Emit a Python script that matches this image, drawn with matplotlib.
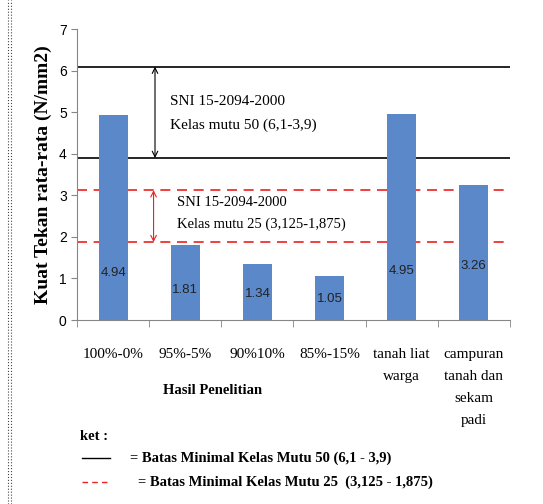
import matplotlib
matplotlib.use("Agg")
import matplotlib.pyplot as plt
from matplotlib.lines import Line2D

# data
categories = ["100%-0%", "95%-5%", "90%10%", "85%-15%",
              "tanah liat\nwarga", "campuran\ntanah dan\nsekam\npadi"]
values = [4.94, 1.81, 1.34, 1.05, 4.95, 3.26]
mutu50 = [6.1, 3.9]
mutu25 = [3.125, 1.875]

# heights where the value labels sit inside the bars
label_y = [1.13, 0.72, 0.63, 0.50, 1.18, 1.30]

serif = "Liberation Serif"
sans = "Liberation Sans"

fig = plt.figure(figsize=(5.43, 5.04), dpi=100)
ax = fig.add_axes([0.142, 0.365, 0.797, 0.577])

x = list(range(len(categories)))
ax.bar(x, values, width=0.4, color="#5B88C8", zorder=2)
for xi, v, ly in zip(x, values, label_y):
    ax.text(xi, ly, f"{v:.2f}", ha="center", va="center", fontsize=9.5,
            family=sans, color="#222222", zorder=3)

# standard limits
for y in mutu50:
    ax.axhline(y, color="black", lw=1.2, zorder=1)
for y in mutu25:
    ax.axhline(y, color="#EE2020", lw=1.2, ls=(0, (6, 4)), zorder=1)

ax.annotate("", xy=(0.58, mutu50[0]), xytext=(0.58, mutu50[1]),
            arrowprops=dict(arrowstyle="<->", color="black", lw=0.8,
                            shrinkA=0, shrinkB=0))
ax.annotate("", xy=(0.56, mutu25[0]), xytext=(0.56, mutu25[1]),
            arrowprops=dict(arrowstyle="<->", color="#EE2020", lw=0.8,
                            shrinkA=0, shrinkB=0))
ax.text(0.79, 4.98, "SNI 15-2094-2000\nKelas mutu 50 (6,1-3,9)",
        ha="left", va="center", fontsize=11, family=serif, linespacing=2.0)
ax.text(0.88, 2.57, "SNI 15-2094-2000\nKelas mutu 25 (3,125-1,875)",
        ha="left", va="center", fontsize=10.5, family=serif, linespacing=1.85)

ax.set_xlim(-0.5, 5.5)
ax.set_ylim(0, 7)
ax.set_yticks(range(8))
ax.set_xticks(x)
ax.set_xticklabels(categories, family=serif, fontsize=11, linespacing=1.9)
ax.set_xticks([i - 0.5 for i in range(len(categories) + 1)], minor=True)
ax.tick_params(axis="x", which="major", length=0, pad=20)
ax.tick_params(axis="x", which="minor", length=5, color="#868686", direction="out")
ax.tick_params(axis="y", length=4, color="#868686", labelsize=10)
for lab in ax.get_yticklabels():
    lab.set_family(sans)
for s in ["top", "right"]:
    ax.spines[s].set_visible(False)
for s in ["left", "bottom"]:
    ax.spines[s].set_color("#868686")

ax.set_ylabel("Kuat Tekan rata-rata (N/mm2)", family=serif, fontsize=14,
              fontweight="bold", labelpad=5)

# caption below the chart
fig.text(213 / 543, 1 - 391 / 504, "Hasil Penelitian", family=serif,
         fontsize=10.5, fontweight="bold", ha="center", va="center")
fig.text(80 / 543, 1 - 437 / 504, "ket :", family=serif, fontsize=10.5,
         fontweight="bold", ha="left", va="center")
fig.add_artist(Line2D([82 / 543, 110 / 543], [1 - 458 / 504] * 2,
                      color="black", lw=1.0))
fig.text(130 / 543, 1 - 458 / 504, "= Batas Minimal Kelas Mutu 50 (6,1 - 3,9)",
         family=serif, fontsize=10.5, fontweight="bold", ha="left", va="center")
fig.add_artist(Line2D([82 / 543, 110 / 543], [1 - 482 / 504] * 2,
                      color="#EE2020", lw=1.0, ls=(0, (4, 3))))
fig.text(138 / 543, 1 - 482 / 504, "= Batas Minimal Kelas Mutu 25  (3,125 - 1,875)",
         family=serif, fontsize=10.5, fontweight="bold", ha="left", va="center")

# dotted frame edge on the left
for xf in [8 / 543, 11 / 543]:
    fig.add_artist(Line2D([xf, xf], [0, 1], color="#444444", lw=0.8, ls=":"))

plt.savefig("out.png", dpi=100)
